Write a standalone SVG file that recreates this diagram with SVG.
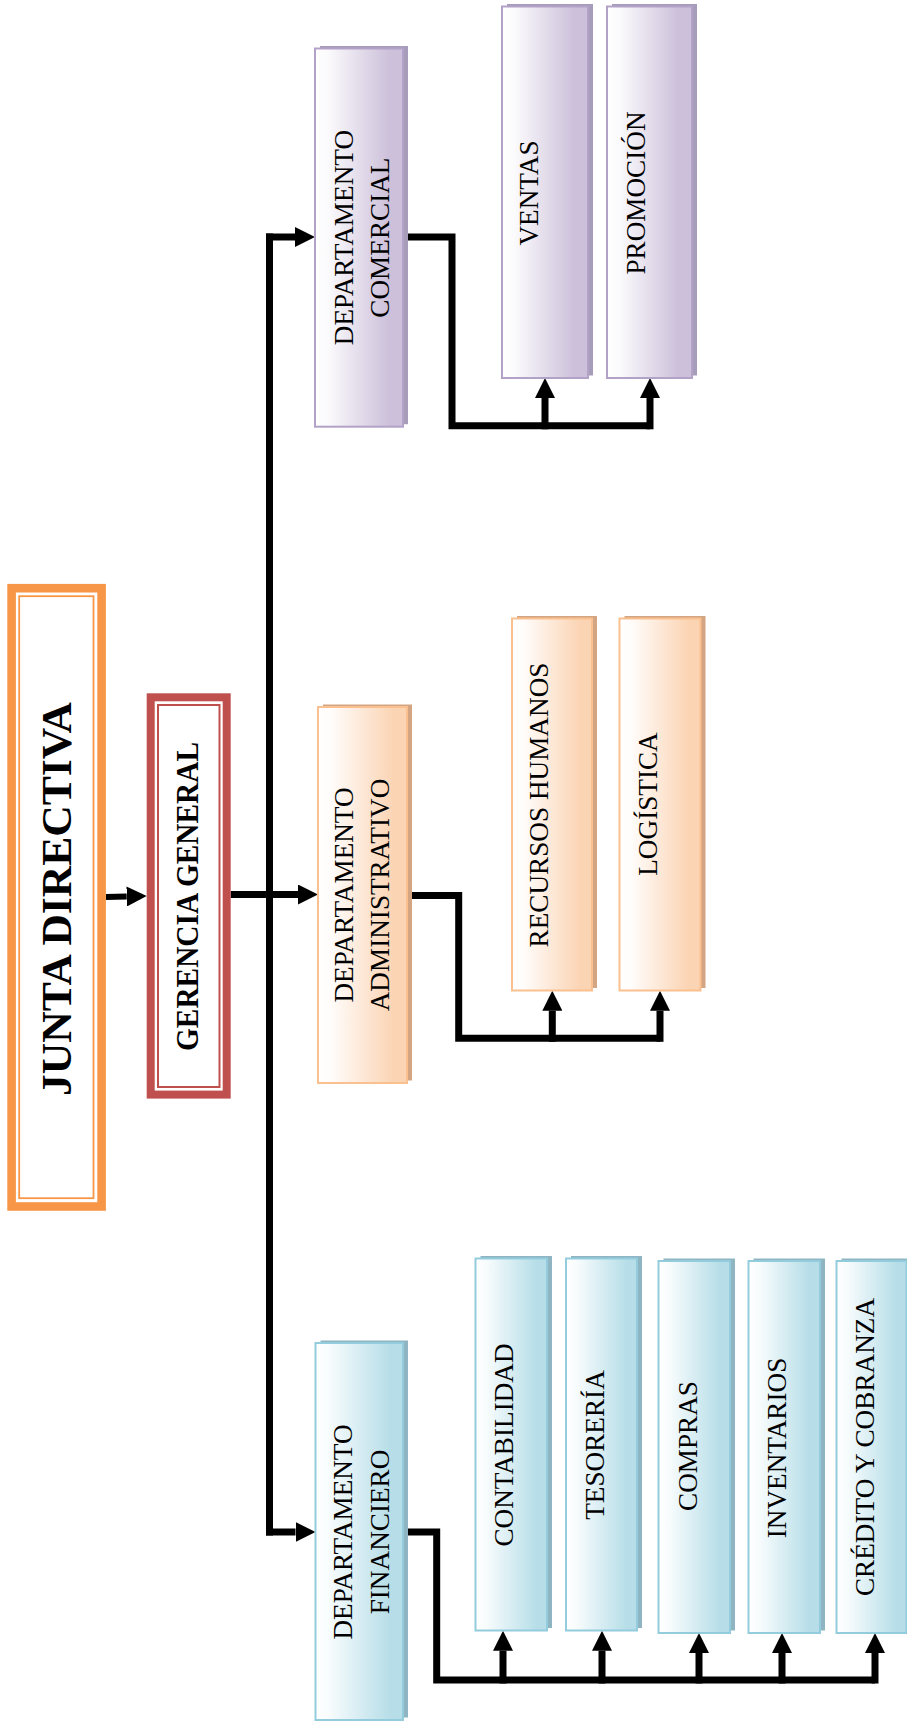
<svg xmlns="http://www.w3.org/2000/svg" width="907" height="1724" viewBox="0 0 907 1724">
<defs>
<linearGradient id="gP" x1="0" y1="0" x2="1" y2="0"><stop offset="0" stop-color="#FFFFFF"/><stop offset="0.15" stop-color="#FBFAFC"/><stop offset="0.85" stop-color="#CCC0DA"/><stop offset="1" stop-color="#CCC0DA"/></linearGradient>
<linearGradient id="gO" x1="0" y1="0" x2="1" y2="0"><stop offset="0" stop-color="#FFFFFF"/><stop offset="0.15" stop-color="#FFFCFA"/><stop offset="0.85" stop-color="#FBD4B4"/><stop offset="1" stop-color="#FBD4B4"/></linearGradient>
<linearGradient id="gB" x1="0" y1="0" x2="1" y2="0"><stop offset="0" stop-color="#FFFFFF"/><stop offset="0.15" stop-color="#F8FCFD"/><stop offset="0.85" stop-color="#B7DEE8"/><stop offset="1" stop-color="#B7DEE8"/></linearGradient>
<marker id="ah" markerUnits="userSpaceOnUse" markerWidth="20" markerHeight="20" viewBox="0 0 20 20" refX="0" refY="10" orient="auto"><path d="M0,0 L20,10 L0,20 Z" fill="#000"/></marker>
</defs>
<style>
.t{font-family:"Liberation Serif","Times New Roman",serif;font-size:27.2px;fill:#000;text-anchor:middle}
.b{font-weight:bold}
.c{fill:none;stroke:#000;stroke-width:7;stroke-linejoin:miter}
.a{fill:none;stroke:#000;stroke-width:7;marker-end:url(#ah)}
.sP{fill:#A79DBA}.bP{fill:url(#gP);stroke:#B3A2C7;stroke-width:2}
.sO{fill:#D3A582}.bO{fill:url(#gO);stroke:#FAC08F;stroke-width:2}
.sB{fill:#8FB5C2}.bB{fill:url(#gB);stroke:#93CDDD;stroke-width:2}
</style>
<rect width="907" height="1724" fill="#FFFFFF"/>

<g id="connectors">
<path class="a" d="M106,897 L126.7,896.5" style="stroke-width:6"/>
<path class="c" d="M269.5,233.5 V1535.5"/>
<path class="a" d="M266,237 H295"/>
<path class="a" d="M230.7,894.5 H298"/>
<path class="a" d="M266,1532 H295.5"/>
<path class="c" d="M403,237 H452 V425.8 H650"/>
<path class="a" d="M545,429.3 V398"/>
<path class="a" d="M650,429.3 V398"/>
<path class="c" d="M407,895.5 H458.7 V1038.3 H660"/>
<path class="a" d="M552.3,1041.8 V1010.7"/>
<path class="a" d="M660,1041.8 V1010.7"/>
<path class="c" d="M403,1532 H436.7 V1680 H875"/>
<path class="a" d="M503,1683.5 V1650.7"/>
<path class="a" d="M602,1683.5 V1650.7"/>
<path class="a" d="M699,1683.5 V1653"/>
<path class="a" d="M782,1683.5 V1653"/>
<path class="a" d="M875,1683.5 V1653"/>
</g>

<g id="junta">
<rect x="11.6" y="588.2" width="90" height="618.3" fill="#FFFFFF" stroke="#F79646" stroke-width="8.6"/>
<rect x="19.2" y="596.2" width="74.3" height="602" fill="none" stroke="#F79646" stroke-width="1.8"/>
<text class="t b" transform="translate(70.5,899) rotate(-90)" style="font-size:43px" textLength="394" lengthAdjust="spacingAndGlyphs">JUNTA DIRECTIVA</text>
</g>

<g id="gerencia">
<rect x="150.7" y="697.3" width="76" height="397.3" fill="#FFFFFF" stroke="#C0504D" stroke-width="8"/>
<rect x="158" y="705" width="61.5" height="382" fill="none" stroke="#C0504D" stroke-width="2"/>
<text class="t b" transform="translate(198.3,896.5) rotate(-90)" style="font-size:32px" textLength="309" lengthAdjust="spacingAndGlyphs">GERENCIA GENERAL</text>
</g>

<g id="dep-comercial">
<rect class="sP" x="320" y="46" width="88" height="378.2"/>
<rect class="bP" x="315" y="48.5" width="88" height="378.2"/>
<text class="t" transform="translate(353,237.6) rotate(-90)">DEPARTAMENTO</text>
<text class="t" transform="translate(388.5,237.6) rotate(-90)">COMERCIAL</text>
</g>
<g id="ventas">
<rect class="sP" x="507" y="4" width="86" height="371.5"/>
<rect class="bP" x="502" y="6.5" width="86" height="371.5"/>
<text class="t" transform="translate(538,193) rotate(-90)">VENTAS</text>
</g>
<g id="promocion">
<rect class="sP" x="612" y="4" width="85" height="371.5"/>
<rect class="bP" x="607" y="6.5" width="85" height="371.5"/>
<text class="t" transform="translate(644.5,193) rotate(-90)">PROMOCIÓN</text>
</g>

<g id="dep-administrativo">
<rect class="sO" x="323" y="704.5" width="89" height="376"/>
<rect class="bO" x="318" y="707" width="89" height="376"/>
<text class="t" transform="translate(353,895) rotate(-90)">DEPARTAMENTO</text>
<text class="t" transform="translate(389,895) rotate(-90)">ADMINISTRATIVO</text>
</g>
<g id="rrhh">
<rect class="sO" x="517" y="616" width="80" height="372"/>
<rect class="bO" x="512" y="618.5" width="80" height="372"/>
<text class="t" transform="translate(548,805) rotate(-90)">RECURSOS HUMANOS</text>
</g>
<g id="logistica">
<rect class="sO" x="624.5" y="616" width="81" height="372"/>
<rect class="bO" x="619.5" y="618.5" width="81" height="372"/>
<text class="t" transform="translate(656.5,804) rotate(-90)">LOGÍSTICA</text>
</g>

<g id="dep-financiero">
<rect class="sB" x="320.5" y="1340.5" width="87.5" height="377"/>
<rect class="bB" x="315.5" y="1343" width="87.5" height="377"/>
<text class="t" transform="translate(352,1532) rotate(-90)">DEPARTAMENTO</text>
<text class="t" transform="translate(388.5,1532) rotate(-90)">FINANCIERO</text>
</g>
<g id="contabilidad">
<rect class="sB" x="480.5" y="1256" width="71.5" height="372"/>
<rect class="bB" x="475.5" y="1258.5" width="71.5" height="372"/>
<text class="t" transform="translate(513,1445) rotate(-90)">CONTABILIDAD</text>
</g>
<g id="tesoreria">
<rect class="sB" x="571" y="1256" width="71" height="372"/>
<rect class="bB" x="566" y="1258.5" width="71" height="372"/>
<text class="t" transform="translate(604,1445) rotate(-90)">TESORERÍA</text>
</g>
<g id="compras">
<rect class="sB" x="663.5" y="1258.5" width="71.5" height="372"/>
<rect class="bB" x="658.5" y="1261" width="71.5" height="372"/>
<text class="t" transform="translate(697,1446) rotate(-90)">COMPRAS</text>
</g>
<g id="inventarios">
<rect class="sB" x="753.5" y="1258.5" width="71.5" height="372"/>
<rect class="bB" x="748.5" y="1261" width="71.5" height="372"/>
<text class="t" transform="translate(786,1448) rotate(-90)">INVENTARIOS</text>
</g>
<g id="credito">
<rect class="sB" x="841.5" y="1258.5" width="70" height="372"/>
<rect class="bB" x="836.5" y="1261" width="70" height="372"/>
<text class="t" transform="translate(874,1447) rotate(-90)">CRÉDITO Y COBRANZA</text>
</g>
</svg>
